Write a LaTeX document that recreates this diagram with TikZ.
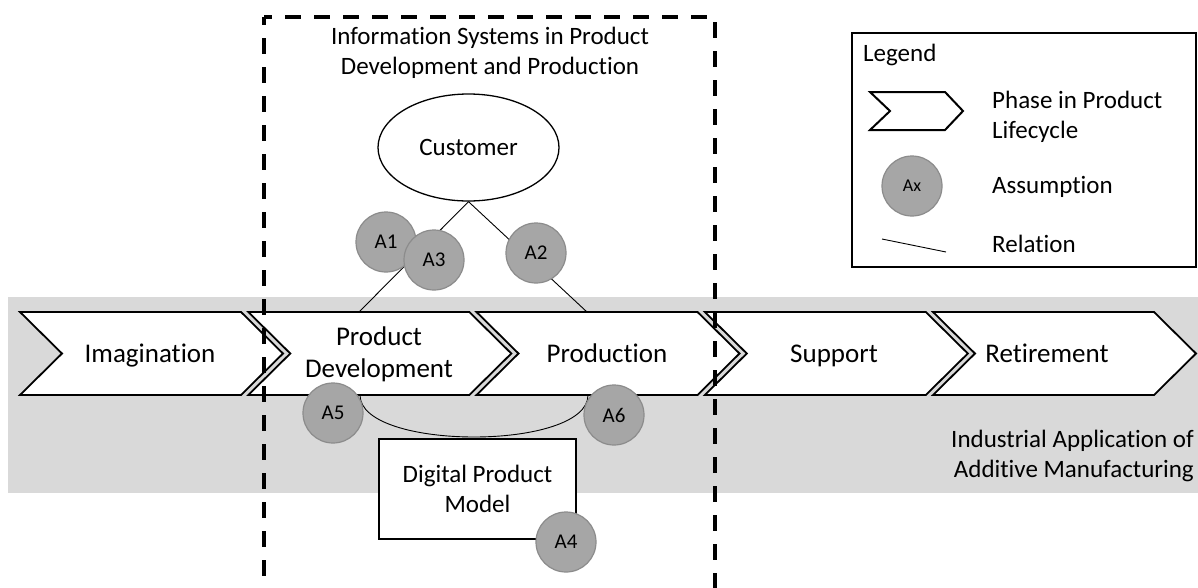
\documentclass[tikz,border=0pt]{standalone}
\usepackage{fontspec}
\setmainfont{Carlito}[Ligatures=NoCommon]
\usetikzlibrary{shapes.geometric}
\definecolor{bandgray}{HTML}{D9D9D9}
\definecolor{circfill}{HTML}{A6A6A6}
\definecolor{circline}{HTML}{8C8C8C}
\begin{document}
\begin{tikzpicture}[x=1pt,y=-1pt,
 phase/.style={draw=black,line width=1.8pt,fill=white,line join=miter},
 phasetext/.style={font=\fontsize{27}{32}\selectfont,align=center,inner sep=0pt},
 txt/.style={font=\fontsize{25}{30}\selectfont,align=center,inner sep=0pt},
 assume/.style={circle,draw=circline,fill=circfill,line width=1.2pt,minimum size=60pt,inner sep=0pt,font=\fontsize{21}{24}\selectfont},
 rel/.style={draw=black,line width=0.9pt},
 sysbox/.style={draw=black,line width=4pt,dash pattern=on 16pt off 13pt}]
\useasboundingbox (0,0) rectangle (1198,587);
\fill[white] (0,0) rectangle (1198,587);
% band
\fill[bandgray] (8,297) rectangle (1198,493);
% phases
\foreach \x in {20,248.3,476.5,704.8,933}{
  \draw[phase] (\x,312) -- ++(221,0) -- ++(42,41.5) -- ++(-42,41.5) -- ++(-221,0) -- ++(42,-41.5) -- cycle;
}
\node[phasetext,anchor=base] (im) at (150,362) {Imagination};
\node[phasetext] (pd) at (379,354) {Product\\Development};
\node[phasetext,anchor=base] (pr) at (607,362) {Production};
\node[phasetext,anchor=base] (su) at (834,362) {Support};
\node[phasetext,anchor=base] (re) at (1047,362) {Retirement};
\coordinate (pdtop) at (359,312);
\coordinate (prtop) at (587,312);
\coordinate (pdbot) at (360,395);
\coordinate (prbot) at (588,395);
% title
\node[txt] (title) at (490,52.5) {Information Systems in Product\\Development and Production};
% customer
\node[ellipse,draw,line width=1.3pt,fill=white,minimum width=181pt,minimum height=107pt,txt] (cust) at (468.5,147.5) {Customer};
\draw[rel] (cust.south) -- (pdtop);
\draw[rel] (cust.south) -- (prtop);
\draw[rel] (pdbot) .. controls (360,451) and (588,451) .. (prbot);
% digital product model
\node[draw,line width=1.3pt,fill=white,minimum width=197pt,minimum height=100pt,txt] (dpm) at (477.5,489) {Digital Product\\Model};
% assumptions
\node[assume] (a1) at (386,242) {A1};
\node[assume] (a3) at (434,260) {A3};
\node[assume] (a2) at (536,253) {A2};
\node[assume] (a5) at (333,413) {A5};
\node[assume] (a6) at (614,415) {A6};
\node[assume] (a4) at (566,542) {A4};
% industrial label
\node[txt,align=right,anchor=east] (iam) at (1194,456) {Industrial Application of\\Additive Manufacturing};
% legend
\node[draw,line width=1.2pt,minimum width=344pt,minimum height=234pt,inner sep=0pt] (leg) at (1024,150) {};
\node[txt,anchor=west] (legt) at (863,55) {Legend};
\draw[phase,line width=2pt] (870,92) -- (945,92) -- (963,111) -- (945,130) -- (870,130) -- (890,111) -- cycle;
\node[txt,anchor=west,align=left] (lphase) at (992,117) {Phase in Product\\Lifecycle};
\node[assume,font=\fontsize{18}{21}\selectfont] (lax) at (912,186) {Ax};
\node[txt,anchor=west] (lass) at (992,187) {Assumption};
\coordinate (lr1) at (882,239);
\coordinate (lr2) at (946,252);
\draw[rel] (lr1) -- (lr2);
\node[txt,anchor=west] (lrel) at (992,244) {Relation};
% system boundary
\draw[sysbox,dash phase=8pt] (264,17) -- (264,592);
\draw[sysbox,dash phase=8pt] (264,17) -- (715,17) -- (715,592);
\end{tikzpicture}
\end{document}
